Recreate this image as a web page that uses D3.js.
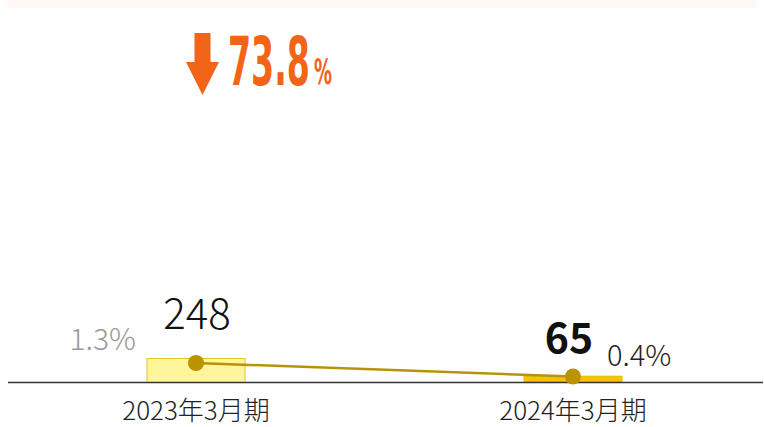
<!DOCTYPE html>
<html><head><meta charset="utf-8">
<script src="https://cdn.jsdelivr.net/npm/d3@7"></script>
<style>html,body{margin:0;padding:0;background:#fff;}svg{display:block;font-family:"Noto Sans CJK JP","Noto Sans",sans-serif;}</style>
</head><body>
<svg id="c" width="764" height="427"></svg>
<script>
const categories = ["2023年3月期", "2024年3月期"];
const values = [248, 65];
const ratios = [1.3, 0.4];
const ratioLabels = ["1.3%", "0.4%"];
const changeText = "73.8";

const svg = d3.select("#c");
const baseY = 382.5;

svg.append("rect").attr("x", 7).attr("y", 0).attr("width", 750).attr("height", 8).attr("fill", "#fff8f5");

const x = d3.scalePoint().domain(categories).range([7.5, 761.5]).padding(0.5);
const y = d3.scaleLinear().domain([0, 248]).range([baseY, baseY - 24]);
const y2 = d3.scaleLinear().domain([0, 1.3]).range([baseY, baseY - 19.5]);
const bw = 98;

// bars
svg.selectAll("rect.bar").data(values).join("rect")
  .attr("class", "bar")
  .attr("x", (d, i) => x(categories[i]) - bw / 2)
  .attr("y", d => y(d))
  .attr("width", bw)
  .attr("height", d => baseY - y(d))
  .attr("fill", (d, i) => i === 0 ? "#fff59a" : "#f7c200")
  .attr("stroke", (d, i) => i === 0 ? "#e8c42a" : "#e8b800")
  .attr("stroke-width", 1);

// baseline
svg.append("line").attr("x1", 8).attr("x2", 763).attr("y1", baseY).attr("y2", baseY)
  .attr("stroke", "#333").attr("stroke-width", 1.3);

// line
const line = d3.line().x((d, i) => x(categories[i])).y(d => y2(d));
svg.append("path").datum(ratios).attr("d", line).attr("fill", "none")
  .attr("stroke", "#b8930a").attr("stroke-width", 2.5);
svg.selectAll("circle.pt").data(ratios).join("circle")
  .attr("class", "pt")
  .attr("cx", (d, i) => x(categories[i]))
  .attr("cy", d => y2(d))
  .attr("r", 8).attr("fill", "#bb9300");

// value labels
svg.append("text").attr("x", x(categories[0])+1).attr("y", 329).attr("text-anchor", "middle")
  .attr("font-size", 42).attr("font-weight", 300).attr("fill", "#111").text(values[0]);
svg.append("text").attr("x", x(categories[1]) - 4).attr("y", 353).attr("text-anchor", "middle")
  .attr("font-size", 41).attr("font-weight", 700).attr("fill", "#111").text(values[1]);

// ratio labels
svg.append("text").attr("x", 136).attr("y", 350).attr("text-anchor", "end")
  .attr("font-size", 30).attr("font-weight", 300).attr("fill", "#999").text(ratioLabels[0]);
svg.append("text").attr("x", 607).attr("y", 366).attr("text-anchor", "start")
  .attr("font-size", 29).attr("font-weight", 300).attr("fill", "#222").text(ratioLabels[1]);

// category labels
svg.selectAll("text.cat").data(categories).join("text")
  .attr("class", "cat")
  .attr("x", d => x(d)).attr("y", 420).attr("text-anchor", "middle")
  .attr("font-size", 26).attr("font-weight", 300).attr("fill", "#222").text(d => d);

// headline arrow
const orange = "#f26418";
svg.append("path")
  .attr("d", "M194.5,33 H210.5 V62 H219 L202.5,95 L186,62 H194.5 Z")
  .attr("fill", orange);
const head = svg.append("text").attr("x", 228).attr("y", 85).attr("fill", orange)
  .attr("font-family", "'DejaVu Sans',sans-serif").attr("font-weight", 700);
head.append("tspan").attr("font-size", 67).attr("textLength", 82).attr("lengthAdjust", "spacingAndGlyphs")
  .text(changeText);
head.append("tspan").attr("x", 314).attr("y", 84).attr("font-size", 36)
  .attr("textLength", 18).attr("lengthAdjust", "spacingAndGlyphs").text("%");
</script>
</body></html>
